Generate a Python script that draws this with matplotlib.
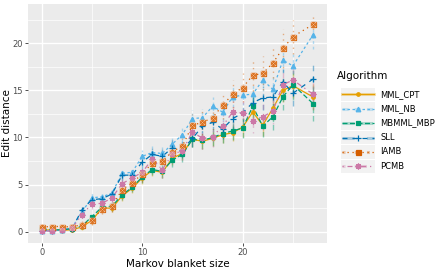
import matplotlib
matplotlib.use("Agg")
import matplotlib.pyplot as plt
from matplotlib.lines import Line2D
from matplotlib.patches import Rectangle
from matplotlib.path import Path
import numpy as np

sizes = [0, 1, 2, 3, 4, 5, 6, 7, 8, 9, 10, 11, 12, 13, 14, 15, 16, 17, 18, 19, 20, 21, 22, 23, 24, 25, 27]

algorithms = ["MML_CPT", "MML_NB", "MBMML_MBP", "SLL", "IAMB", "PCMB"]

mml_cpt = [0.15, 0.2, 0.15, 0.2, 0.5, 1.2, 2.5, 2.5, 3.8, 4.6, 5.7, 6.5, 6.3, 7.8, 8.3, 9.8,
           9.6, 9.9, 10.3, 10.5, 11.1, 12.7, 11.3, 13.1, 15.0, 15.5, 14.3]
mml_nb = [0.1, 0.1, 0.2, 0.4, 2.1, 3.6, 3.7, 4.1, 6.2, 6.3, 8.0, 8.4, 8.3, 9.3, 10.3, 12.0,
          12.1, 13.3, 12.7, 14.3, 14.5, 14.6, 16.1, 15.1, 18.2, 17.6, 20.9]
mbmml_mbp = [0.3, 0.2, 0.2, 0.3, 0.6, 1.6, 2.6, 2.7, 3.9, 4.7, 5.8, 6.6, 6.4, 7.6, 8.2, 9.8,
             9.7, 10.0, 10.4, 10.7, 11.0, 13.3, 11.2, 12.2, 14.3, 15.6, 13.6]
sll = [0.1, 0.1, 0.2, 0.3, 2.3, 3.4, 3.5, 4.0, 6.0, 6.0, 7.4, 8.2, 8.0, 8.9, 8.7, 9.9,
       11.2, 11.6, 10.9, 12.0, 12.6, 13.7, 14.2, 14.3, 15.9, 14.7, 16.2]
iamb = [0.5, 0.55, 0.55, 0.5, 0.75, 1.25, 2.4, 2.7, 4.45, 5.2, 6.1, 7.3, 7.5, 8.5, 9.1, 11.3,
        11.6, 12.1, 13.4, 14.6, 15.3, 16.6, 16.8, 17.9, 19.45, 20.7, 22.0]
pcmb = [0.1, 0.05, 0.2, 0.35, 1.8, 2.95, 3.0, 3.6, 5.1, 5.7, 6.3, 7.7, 6.6, 8.2, 8.6, 10.6,
        9.9, 10.1, 11.2, 12.7, 12.6, 11.8, 12.2, 12.8, 15.6, 16.1, 14.6]

err_mml_cpt = [0.2, 0.2, 0.2, 0.2, 0.3, 0.4, 0.4, 0.4, 0.5, 0.5, 0.6, 0.6, 0.6, 0.7, 0.7, 0.8,
               0.8, 0.8, 0.9, 0.9, 1.0, 1.0, 1.1, 1.2, 1.2, 1.3, 1.4]
err_mml_nb = [0.2, 0.2, 0.2, 0.3, 0.4, 0.5, 0.5, 0.5, 0.6, 0.6, 0.7, 0.7, 0.7, 0.8, 0.8, 0.9,
              0.9, 1.0, 1.0, 1.1, 1.1, 1.2, 1.2, 1.3, 1.3, 1.4, 1.5]
err_mbmml_mbp = [0.2, 0.2, 0.2, 0.2, 0.3, 0.4, 0.4, 0.5, 0.5, 0.5, 0.6, 0.6, 0.7, 0.7, 0.8, 0.8,
                 0.9, 0.9, 1.0, 1.0, 1.1, 1.2, 1.2, 1.4, 1.4, 1.6, 1.9]
err_sll = [0.2, 0.2, 0.2, 0.3, 0.4, 0.5, 0.5, 0.5, 0.6, 0.6, 0.7, 0.7, 0.8, 0.8, 0.9, 0.9,
           1.0, 1.0, 1.1, 1.1, 1.2, 1.2, 1.3, 1.3, 1.4, 1.4, 1.5]
err_iamb = [0.3, 0.3, 0.3, 0.3, 0.4, 0.5, 0.5, 0.6, 0.7, 0.7, 0.8, 0.8, 0.9, 1.0, 1.1, 1.2,
            1.3, 1.3, 1.4, 1.5, 1.5, 1.7, 1.8, 1.6, 2.1, 1.8, 1.1]
err_pcmb = [0.2, 0.2, 0.2, 0.3, 0.4, 0.5, 0.5, 0.6, 0.7, 0.7, 0.8, 0.8, 0.9, 0.9, 1.0, 1.0,
            1.1, 1.1, 1.2, 1.2, 1.3, 1.3, 1.4, 1.4, 1.5, 1.5, 1.6]

means = [mml_cpt, mml_nb, mbmml_mbp, sll, iamb, pcmb]
errs = [err_mml_cpt, err_mml_nb, err_mbmml_mbp, err_sll, err_iamb, err_pcmb]

colors = ["#E69F00", "#56B4E9", "#009E73", "#0072B2", "#D55E00", "#CC79A7"]
linestyles = ["-", (0, (2, 2)), (0, (4, 2)), (0, (4, 4)), (0, (1, 3)), (0, (1, 3, 4, 3))]

# square with a cross (ggplot shape 7)
sq_cross = Path([(-1, -1), (1, -1), (1, 1), (-1, 1), (-1, -1), (1, 1), (-1, 1), (1, -1)],
                [Path.MOVETO, Path.LINETO, Path.LINETO, Path.LINETO, Path.LINETO,
                 Path.LINETO, Path.MOVETO, Path.LINETO])
markers = ["o", "^", "s", "+", "s", (8, 2, 0)]
msizes = [2.5, 3.3, 3.0, 4.2, 3.6, 4.2]

fig = plt.figure(figsize=(4.37, 2.70), dpi=100)
ax = fig.add_axes([0.0648, 0.1011, 0.6828, 0.8841])
ax.set_facecolor("#EBEBEB")

for i in range(len(algorithms)):
    x = np.array(sizes)
    y = np.array(means[i])
    e = np.array(errs[i])
    eb = ax.errorbar(x, y, yerr=e, fmt="none", ecolor=colors[i], elinewidth=1.0, alpha=0.45,
                     capsize=0, zorder=2)
    eb[2][0].set_linestyle(linestyles[i])
    ax.plot(x, y, color=colors[i], linestyle=linestyles[i], linewidth=0.9, zorder=3)
    ax.plot(x, y, linestyle="none", marker=markers[i], markersize=msizes[i], color=colors[i],
            markeredgewidth=0.9, zorder=4)
    if algorithms[i] == "IAMB":
        ax.plot(x, y, linestyle="none", marker=sq_cross, markersize=3.6, color="#F0B890",
                markerfacecolor="none", markeredgewidth=0.4, zorder=5)

ax.set_xlim(-1.33, 28.36)
ax.set_ylim(-1.17, 24.17)
ax.set_xticks([0, 10, 20])
ax.set_yticks([0, 5, 10, 15, 20])
ax.set_xticks([5, 15, 25], minor=True)
ax.set_yticks([2.5, 7.5, 12.5, 17.5, 22.5], minor=True)
ax.grid(which="major", color="white", linewidth=1.0)
ax.grid(which="minor", color="white", linewidth=0.5)
ax.set_axisbelow(True)
for s in ax.spines.values():
    s.set_visible(False)
ax.tick_params(which="major", length=2.5, width=0.6, color="#333333", labelsize=6,
               labelcolor="#4D4D4D", pad=1.5)
ax.tick_params(which="minor", length=0)
ax.set_xlabel("Markov blanket size", fontsize=7.5, labelpad=1)
ax.set_ylabel("Edit distance", fontsize=7.5)
ax.yaxis.set_label_coords(-0.056, 0.5)

# legend, drawn in pixel coordinates
leg = fig.add_axes([0, 0, 1, 1])
leg.set_xlim(0, 437)
leg.set_ylim(270, 0)
leg.axis("off")
leg.text(337, 76, "Algorithm", fontsize=7.5, va="center", ha="left")
rows = [94.3, 108.7, 123.1, 137.5, 151.9, 166.3]
for i in range(len(algorithms)):
    yc = rows[i]
    leg.add_patch(Rectangle((340.5, yc - 6.8), 34.5, 13.6, facecolor="#F2F2F2", edgecolor="none"))
    leg.add_line(Line2D([342, 374], [yc, yc], color=colors[i], linestyle=linestyles[i],
                        linewidth=0.9))
    leg.add_line(Line2D([342, 374], [yc, yc], color=colors[i], linestyle=linestyles[i],
                        linewidth=2.2, alpha=0.3))
    leg.plot([357.75], [yc], marker=markers[i], markersize=msizes[i], color=colors[i],
             markeredgewidth=0.9, linestyle="none")
    leg.text(380.5, yc, algorithms[i], fontsize=6, va="center", ha="left")

fig.savefig("out.png", dpi=100)
